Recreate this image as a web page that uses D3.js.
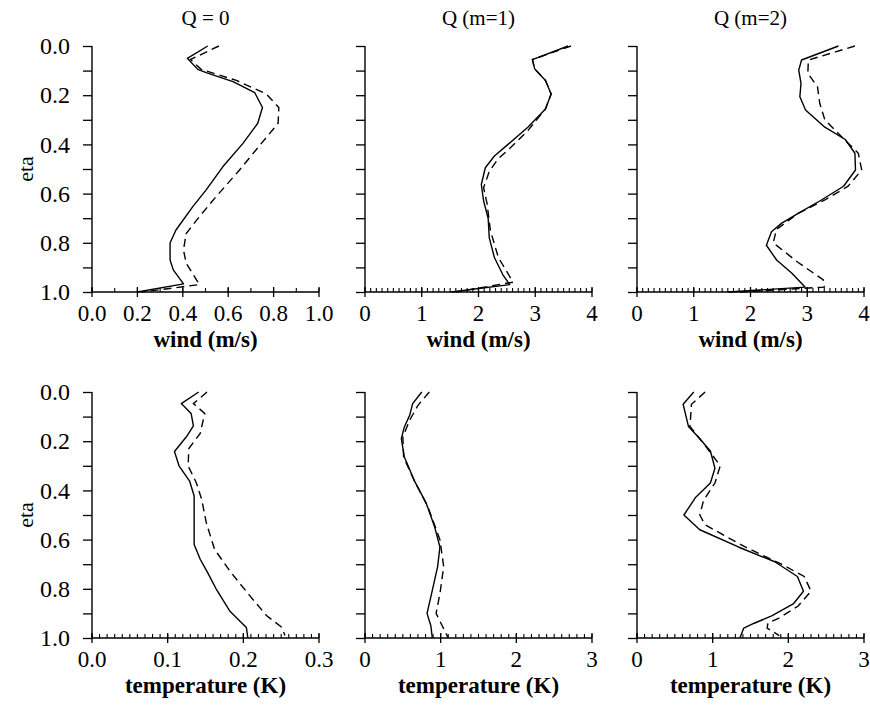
<!DOCTYPE html>
<html>
<head>
<meta charset="utf-8">
<script src="https://cdn.jsdelivr.net/npm/d3@7"></script>
<style>
  html, body { margin: 0; padding: 0; background: #fff; }
  svg { display: block; }
</style>
</head>
<body>
<svg id="chart" width="870" height="705"></svg>
<script>
// ---- Data: [value, eta] pairs ----
const panelTitles = ["Q = 0", "Q (m=1)", "Q (m=2)"];
const xLabels = ["wind (m/s)", "temperature (K)"];

const windQ0Solid = [[0.51,0],[0.42,0.05],[0.466,0.095],[0.503,0.108],[0.621,0.145],[0.717,0.19],[0.751,0.25],[0.73,0.314],[0.665,0.396],[0.577,0.49],[0.503,0.585],[0.444,0.653],[0.37,0.748],[0.344,0.80],[0.344,0.87],[0.358,0.91],[0.403,0.967],[0.20,1.0]];
const windQ0Dashed = [[0.559,0],[0.434,0.055],[0.481,0.095],[0.636,0.14],[0.768,0.195],[0.823,0.25],[0.82,0.314],[0.746,0.396],[0.65,0.504],[0.547,0.612],[0.473,0.694],[0.415,0.762],[0.403,0.829],[0.415,0.883],[0.473,0.97],[0.22,1.0]];

const windM1Solid = [[3.58,0],[2.95,0.055],[2.99,0.093],[3.18,0.14],[3.28,0.195],[3.18,0.256],[2.87,0.33],[2.52,0.40],[2.28,0.447],[2.12,0.495],[2.05,0.563],[2.09,0.63],[2.17,0.70],[2.19,0.78],[2.28,0.86],[2.43,0.93],[2.55,0.97],[1.52,1.0]];
const windM1Dashed = [[3.63,0],[2.95,0.055],[2.99,0.093],[3.18,0.14],[3.28,0.195],[3.18,0.256],[2.87,0.344],[2.58,0.41],[2.34,0.46],[2.19,0.51],[2.09,0.576],[2.15,0.64],[2.21,0.75],[2.35,0.86],[2.61,0.96],[1.60,1.0]];

const windM2Solid = [[3.55,0],[2.90,0.057],[2.85,0.098],[2.89,0.152],[2.87,0.206],[2.97,0.26],[3.31,0.33],[3.67,0.38],[3.84,0.436],[3.85,0.504],[3.64,0.57],[3.25,0.626],[2.84,0.68],[2.55,0.72],[2.37,0.755],[2.28,0.81],[2.46,0.87],[2.73,0.924],[2.96,0.98],[1.61,1.0]];
const windM2Dashed = [[3.84,0],[3.02,0.057],[3.01,0.111],[3.18,0.165],[3.22,0.233],[3.31,0.30],[3.61,0.37],[3.90,0.436],[3.96,0.504],[3.72,0.57],[3.31,0.626],[2.84,0.68],[2.46,0.745],[2.40,0.80],[2.84,0.88],[3.28,0.95],[3.30,0.98],[1.80,1.0]];

const tempQ0Solid = [[0.141,0],[0.118,0.047],[0.131,0.087],[0.134,0.138],[0.125,0.181],[0.109,0.242],[0.115,0.30],[0.129,0.362],[0.135,0.423],[0.135,0.518],[0.135,0.62],[0.143,0.68],[0.153,0.735],[0.164,0.80],[0.182,0.89],[0.204,0.957],[0.206,1.0]];
const tempQ0Dashed = [[0.152,0],[0.134,0.047],[0.149,0.087],[0.143,0.168],[0.128,0.23],[0.127,0.30],[0.138,0.37],[0.145,0.437],[0.151,0.531],[0.162,0.64],[0.184,0.735],[0.209,0.83],[0.231,0.91],[0.251,0.957],[0.255,0.99]];

const tempM1Solid = [[0.75,0],[0.63,0.047],[0.59,0.095],[0.52,0.142],[0.48,0.19],[0.52,0.264],[0.65,0.359],[0.81,0.453],[0.92,0.548],[0.99,0.63],[0.96,0.71],[0.88,0.82],[0.82,0.90],[0.87,0.95],[0.89,1.0]];
const tempM1Dashed = [[0.85,0],[0.70,0.054],[0.59,0.115],[0.50,0.183],[0.51,0.264],[0.65,0.36],[0.83,0.466],[0.99,0.60],[1.04,0.71],[0.99,0.82],[0.94,0.90],[1.02,0.95],[1.10,1.0]];

const tempM2Solid = [[0.75,0],[0.61,0.05],[0.68,0.14],[0.80,0.18],[0.97,0.24],[1.03,0.31],[0.97,0.37],[0.77,0.43],[0.62,0.50],[0.83,0.56],[1.34,0.63],[1.82,0.69],[2.12,0.75],[2.20,0.81],[2.07,0.86],[1.78,0.91],[1.55,0.94],[1.41,0.96],[1.36,1.0]];
const tempM2Dashed = [[0.90,0],[0.72,0.05],[0.70,0.14],[0.83,0.19],[0.98,0.25],[1.10,0.30],[1.03,0.37],[0.88,0.44],[0.83,0.50],[0.90,0.54],[1.43,0.63],[1.91,0.70],[2.21,0.75],[2.30,0.81],[2.13,0.87],[1.87,0.92],[1.73,0.94],[1.72,0.96],[1.88,0.99]];

const xDomains = [[0,1],[0,4],[0,4],[0,0.3],[0,3],[0,3]];
const majorCounts = [5,4,4,3,3,3];
const minorCounts = [10,40,40,30,30,30];
const majorFormats = [".1f","d","d",".1f","d","d"];
const solidSeries = [windQ0Solid, windM1Solid, windM2Solid, tempQ0Solid, tempM1Solid, tempM2Solid];
const dashedSeries = [windQ0Dashed, windM1Dashed, windM2Dashed, tempQ0Dashed, tempM1Dashed, tempM2Dashed];

// ---- Layout ----
const FONT = '"Liberation Serif", serif';
const colX = [92, 365, 637];
const rowY = [46, 392];
const PW = 227, PH = 246;

const svg = d3.select("#chart");

panelTitles.forEach((t, c) => {
  svg.append("text")
    .attr("x", colX[c] + PW / 2).attr("y", 25)
    .attr("text-anchor", "middle")
    .attr("font-family", FONT)
    .attr("font-size", 21)
    .text(t);
});

for (let i = 0; i < 6; i++) {
  const r = Math.floor(i / 3), c = i % 3;
  const g = svg.append("g").attr("transform", `translate(${colX[c]},${rowY[r]})`);
  const x = d3.scaleLinear().domain(xDomains[i]).range([0, PW]);
  const y = d3.scaleLinear().domain([0, 1]).range([0, PH]);

  const majors = x.ticks(majorCounts[i]);
  const minors = x.ticks(minorCounts[i]);
  g.append("g").selectAll("line").data(minors).join("line")
    .attr("x1", d => x(d)).attr("x2", d => x(d))
    .attr("y1", PH).attr("y2", PH - 4)
    .attr("stroke", "#000").attr("stroke-width", 1.1);
  const xa = g.append("g");
  xa.selectAll("line").data(majors).join("line")
    .attr("x1", d => x(d)).attr("x2", d => x(d))
    .attr("y1", PH - 5).attr("y2", PH + 5)
    .attr("stroke", "#000").attr("stroke-width", 1.3);
  xa.selectAll("text").data(majors).join("text")
    .attr("x", d => x(d)).attr("y", PH + 29)
    .attr("text-anchor", "middle")
    .attr("font-family", FONT)
    .attr("font-size", 23)
    .text(d => d3.format(majorFormats[i])(d));
  g.append("line").attr("x1", 0).attr("x2", PW).attr("y1", PH).attr("y2", PH)
    .attr("stroke", "#000").attr("stroke-width", 1.4);

  const yAxis = d3.axisLeft(y).ticks(10).tickSize(9).tickPadding(13)
    .tickFormat(d => (c === 0 && Math.round(d * 10) % 2 === 0) ? d3.format(".1f")(d) : "");
  const ya = g.append("g").call(yAxis);
  ya.attr("font-family", FONT).attr("font-size", 24);
  ya.select(".domain").attr("stroke-width", 1.4).attr("d", `M0,0V${PH}`);
  ya.selectAll(".tick line").attr("stroke-width", 1.3);
  ya.selectAll(".tick text").attr("font-family", FONT).attr("font-size", 24);

  g.append("text")
    .attr("x", PW / 2).attr("y", PH + 55)
    .attr("text-anchor", "middle")
    .attr("font-family", FONT)
    .attr("font-size", 23).attr("font-weight", "bold")
    .text(xLabels[r]);

  if (c === 0) {
    g.append("text")
      .attr("transform", `translate(-59,${PH / 2}) rotate(-90)`)
      .attr("text-anchor", "middle")
      .attr("font-family", FONT)
      .attr("font-size", 22)
      .text("eta");
  }

  const line = d3.line().x(d => x(d[0])).y(d => y(d[1]));
  g.append("path").datum(solidSeries[i]).attr("d", line)
    .attr("fill", "none").attr("stroke", "#000").attr("stroke-width", 1.4)
    .attr("stroke-linejoin", "round");
  g.append("path").datum(dashedSeries[i]).attr("d", line)
    .attr("fill", "none").attr("stroke", "#000").attr("stroke-width", 1.4)
    .attr("stroke-dasharray", "8,5");
}
</script>
</body>
</html>
